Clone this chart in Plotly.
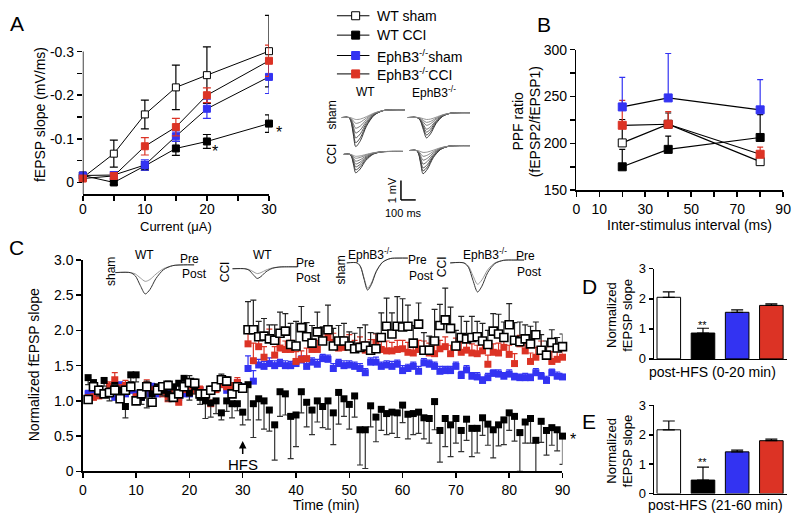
import plotly.graph_objects as go

W, H = 800, 521
BLUE = '#3333f2'
RED = '#dc3325'
FONT = 'Liberation Sans, Arial, sans-serif'

# ---------------- Panel A data ----------------
A_current = [0, 5, 10, 15, 20, 30]
A_wt_sham = [0.011, 0.066, 0.156, 0.218, 0.246, 0.301]
A_wt_sham_err = [0.006, 0.031, 0.033, 0.051, 0.065, 0.082]
A_wt_cci = [0.016, 0.000, 0.038, 0.078, 0.094, 0.135]
A_wt_cci_err = [0.005, 0.005, 0.010, 0.016, 0.016, 0.020]
A_eph_sham = [0.016, 0.017, 0.040, 0.106, 0.169, 0.242]
A_eph_sham_err = [0.004, 0.008, 0.012, 0.012, 0.022, 0.038]
A_eph_cci = [0.009, 0.015, 0.083, 0.127, 0.200, 0.279]
A_eph_cci_err = [0.004, 0.006, 0.020, 0.020, 0.017, 0.036]

# ---------------- Panel B data ----------------
B_isi = [20, 40, 80]
B_wt_sham = [200.5, 220.4, 180.5]
B_wt_sham_err = [25.0, 12.0, 3.0]
B_wt_cci = [175.0, 193.6, 206.3]
B_wt_cci_err = [18.6, 14.1, 24.4]
B_eph_sham = [238.9, 248.5, 235.8]
B_eph_sham_err = [31.6, 47.4, 32.2]
B_eph_cci = [219.3, 220.4, 188.4]
B_eph_cci_err = [26.5, 13.4, 7.6]

# ---------------- Panel C data ----------------
C_time = list(range(1, 91))
C_wt_sham = [1.02, 1.20, 1.15, 1.10, 1.12, 1.15, 1.03, 1.15, 1.20, 1.00,
             1.10, 1.20, 0.98, 1.15, 1.20, 1.22, 1.05, 1.10, 1.20, 1.26,
             1.25, 1.10, 1.10, 1.15, 1.20, 1.30, 1.28, 1.10, 1.20, 1.18,
             2.01, 2.01, 1.91, 1.92, 1.88, 1.86, 1.96, 1.99, 1.80, 1.78,
             2.04, 1.91, 1.82, 1.98, 1.85, 2.01, 1.78, 1.85, 1.85, 1.78,
             1.74, 1.76, 1.78, 1.72, 1.74, 1.90, 2.06, 1.95, 2.06, 2.05,
             2.06, 1.82, 2.09, 1.72, 1.72, 1.85, 2.07, 2.15, 2.03, 1.78,
             1.90, 1.88, 1.90, 1.91, 1.85, 1.80, 1.99, 1.95, 1.90, 2.08,
             1.86, 1.84, 1.88, 1.81, 1.94, 1.72, 1.65, 1.83, 1.75, 1.77]
C_wt_sham_err = [0.06, 0.06, 0.05, 0.05, 0.06, 0.08, 0.05, 0.06, 0.07, 0.05,
                 0.06, 0.08, 0.05, 0.06, 0.05, 0.06, 0.06, 0.05, 0.06, 0.10,
                 0.06, 0.05, 0.05, 0.06, 0.06, 0.08, 0.06, 0.06, 0.05, 0.06,
                 0.40, 0.42, 0.22, 0.25, 0.20, 0.22, 0.30, 0.25, 0.30, 0.35,
                 0.30, 0.20, 0.25, 0.28, 0.20, 0.35, 0.25, 0.22, 0.25, 0.20,
                 0.22, 0.28, 0.30, 0.25, 0.22, 0.35, 0.40, 0.30, 0.42, 0.40,
                 0.30, 0.25, 0.30, 0.25, 0.20, 0.45, 0.30, 0.45, 0.30, 0.22,
                 0.30, 0.25, 0.30, 0.22, 0.25, 0.20, 0.25, 0.28, 0.22, 0.30,
                 0.25, 0.28, 0.20, 0.25, 0.18, 0.22, 0.20, 0.18, 0.15, 0.18]
C_wt_cci = [1.33, 1.26, 1.17, 1.29, 1.10, 1.22, 1.15, 0.92, 1.37, 1.37,
            1.05, 1.20, 1.10, 1.20, 1.15, 1.10, 1.20, 1.25, 1.32, 1.11,
            1.20, 1.05, 1.00, 0.97, 1.00, 0.83, 1.00, 0.96, 0.96, 0.84,
            1.23, 0.96, 1.03, 1.00, 0.87, 0.66, 1.13, 1.10, 0.78, 0.80,
            1.13, 0.98, 0.87, 1.00, 0.92, 1.00, 0.83, 1.12, 1.03, 0.95,
            1.07, 0.59, 0.59, 0.93, 0.77, 0.88, 0.82, 0.84, 0.83, 0.94,
            0.81, 0.82, 0.84, 0.76, 0.75, 0.99, 0.58, 0.75, 0.66, 0.75,
            0.58, 0.74, 0.61, 0.61, 0.76, 0.67, 0.59, 0.66, 0.73, 0.83,
            0.78, 0.55, 0.70, 0.75, 0.44, 0.71, 0.58, 0.62, 0.59, 0.50]
C_wt_cci_err = [0.10, 0.08, 0.10, 0.08, 0.10, 0.12, 0.08, 0.16, 0.10, 0.10,
                0.10, 0.30, 0.08, 0.10, 0.08, 0.10, 0.10, 0.10, 0.12, 0.10,
                0.10, 0.10, 0.25, 0.20, 0.18, 0.10, 0.15, 0.20, 0.10, 0.18,
                0.50, 0.48, 0.30, 0.40, 0.30, 0.50, 0.35, 0.30, 0.60, 0.45,
                0.30, 0.35, 0.35, 0.30, 0.30, 0.40, 0.45, 0.45, 0.25, 0.35,
                0.30, 0.50, 0.55, 0.30, 0.35, 0.30, 0.30, 0.30, 0.35, 0.25,
                0.35, 0.30, 0.30, 0.30, 0.35, 0.40, 0.45, 0.40, 0.45, 0.35,
                0.30, 0.30, 0.40, 0.35, 0.25, 0.30, 0.40, 0.30, 0.35, 0.25,
                0.35, 0.55, 0.30, 0.35, 0.45, 0.30, 0.35, 0.25, 0.30, 0.40]
C_eph_sham = [1.10, 1.10, 1.15, 1.12, 1.10, 1.05, 1.22, 1.10, 1.15, 1.10,
              1.05, 1.10, 1.20, 1.10, 1.15, 1.10, 1.15, 1.05, 1.10, 1.10,
              1.20, 1.15, 1.10, 1.15, 1.20, 1.25, 1.15, 1.15, 1.25, 1.20,
              1.46, 1.28, 1.51, 1.49, 1.53, 1.50, 1.53, 1.50, 1.50, 1.53,
              1.58, 1.49, 1.55, 1.52, 1.60, 1.59, 1.46, 1.53, 1.50, 1.51,
              1.49, 1.46, 1.40, 1.55, 1.55, 1.49, 1.51, 1.49, 1.52, 1.43,
              1.46, 1.49, 1.42, 1.54, 1.52, 1.49, 1.42, 1.43, 1.43, 1.49,
              1.36, 1.44, 1.35, 1.34, 1.29, 1.33, 1.39, 1.38, 1.35, 1.38,
              1.34, 1.33, 1.33, 1.33, 1.40, 1.35, 1.29, 1.40, 1.35, 1.34]
C_eph_sham_err = [0.05, 0.04, 0.05, 0.04, 0.05, 0.05, 0.05, 0.04, 0.05, 0.04,
                  0.05, 0.04, 0.05, 0.06, 0.04, 0.05, 0.05, 0.04, 0.05, 0.05,
                  0.05, 0.04, 0.05, 0.04, 0.05, 0.05, 0.04, 0.05, 0.05, 0.04,
                  0.18, 0.15, 0.08, 0.07, 0.08, 0.07, 0.06, 0.07, 0.06, 0.07,
                  0.06, 0.07, 0.06, 0.07, 0.06, 0.06, 0.07, 0.06, 0.07, 0.06,
                  0.06, 0.07, 0.06, 0.06, 0.07, 0.06, 0.06, 0.07, 0.06, 0.07,
                  0.06, 0.06, 0.07, 0.06, 0.06, 0.06, 0.07, 0.06, 0.06, 0.06,
                  0.06, 0.06, 0.05, 0.06, 0.05, 0.06, 0.05, 0.06, 0.05, 0.06,
                  0.05, 0.05, 0.06, 0.05, 0.06, 0.05, 0.06, 0.05, 0.06, 0.05]
C_eph_cci = [1.03, 1.05, 1.07, 1.10, 1.21, 1.30, 1.17, 1.22, 1.19, 1.05,
             1.10, 1.23, 1.14, 1.17, 1.10, 1.03, 1.12, 0.98, 1.16, 1.21,
             1.14, 1.16, 1.10, 0.96, 1.16, 1.23, 1.20, 1.20, 1.26, 1.17,
             1.81, 1.57, 1.77, 1.62, 1.88, 1.65, 1.75, 1.73, 1.73, 1.56,
             1.59, 1.60, 1.73, 1.73, 1.85, 1.90, 1.83, 1.75, 1.76, 1.80,
             1.74, 1.78, 1.72, 1.73, 1.83, 1.73, 1.71, 1.71, 1.73, 1.74,
             1.69, 1.68, 1.73, 1.73, 1.68, 1.67, 1.74, 1.77, 1.67, 1.76,
             1.69, 1.72, 1.68, 1.67, 1.71, 1.52, 1.69, 1.68, 1.76, 1.66,
             1.53, 1.81, 1.71, 1.56, 1.62, 1.72, 1.65, 1.56, 1.59, 1.62]
C_eph_cci_err = [0.06, 0.05, 0.06, 0.05, 0.06, 0.10, 0.06, 0.07, 0.06, 0.05,
                 0.06, 0.07, 0.06, 0.05, 0.06, 0.05, 0.06, 0.05, 0.06, 0.07,
                 0.06, 0.05, 0.06, 0.05, 0.06, 0.07, 0.06, 0.06, 0.07, 0.06,
                 0.20, 0.25, 0.18, 0.15, 0.14, 0.12, 0.15, 0.12, 0.13, 0.14,
                 0.12, 0.15, 0.12, 0.13, 0.14, 0.12, 0.13, 0.12, 0.15, 0.14,
                 0.12, 0.13, 0.12, 0.14, 0.12, 0.13, 0.14, 0.12, 0.13, 0.12,
                 0.14, 0.12, 0.13, 0.12, 0.14, 0.13, 0.12, 0.14, 0.12, 0.13,
                 0.14, 0.12, 0.13, 0.12, 0.14, 0.13, 0.12, 0.14, 0.12, 0.13,
                 0.14, 0.12, 0.13, 0.12, 0.14, 0.13, 0.12, 0.14, 0.12, 0.13]

# ---------------- Panels D / E data ----------------
BAR_groups = ['WT sham', 'WT CCI', 'EphB3-/- sham', 'EphB3-/- CCI']
BAR_colors = ['white', 'black', BLUE, RED]
D_vals = [2.05, 0.86, 1.55, 1.78]
D_err = [0.18, 0.16, 0.08, 0.05]
E_vals = [2.17, 0.46, 1.42, 1.80]
E_err = [0.30, 0.44, 0.06, 0.05]

for arr in (C_wt_sham, C_wt_sham_err, C_wt_cci, C_wt_cci_err, C_eph_sham,
            C_eph_sham_err, C_eph_cci, C_eph_cci_err):
    assert len(arr) == 90

# ---------------- helpers ----------------
def xd(a, b):
    return [a / W, b / W]

def yd(top, bottom):
    return [1 - bottom / H, 1 - top / H]

def ebar(arr, color, width=4, down=False, up_only=False, thick=1.2):
    d = dict(type='data', array=arr, color=color, thickness=thick, width=width, visible=True)
    if down:
        d.update(symmetric=False, array=[0] * len(arr), arrayminus=arr)
    elif up_only:
        d.update(symmetric=False, arrayminus=[0] * len(arr))
    return d

fig = go.Figure()

# ---------------- Panel A ----------------
A_series = [
    (A_wt_sham, A_wt_sham_err, 'white', 'black', 'black'),
    (A_wt_cci, A_wt_cci_err, 'black', 'black', 'black'),
    (A_eph_sham, A_eph_sham_err, BLUE, BLUE, BLUE),
    (A_eph_cci, A_eph_cci_err, RED, RED, RED),
]
for ys, es, fill, edge, ecol in A_series:
    fig.add_trace(go.Scatter(
        x=A_current, y=ys, xaxis='x', yaxis='y', mode='lines+markers',
        line=dict(color='black', width=1),
        marker=dict(symbol='square', size=7, color=fill, line=dict(color=edge, width=1)),
        error_y=ebar(es, ecol, width=4), cliponaxis=False, showlegend=False))

# ---------------- Panel B ----------------
B_series = [
    (B_wt_cci, B_wt_cci_err, 'black', 'black', 'black'),
    (B_wt_sham, B_wt_sham_err, 'white', 'black', 'black'),
    (B_eph_cci, B_eph_cci_err, RED, RED, RED),
    (B_eph_sham, B_eph_sham_err, BLUE, BLUE, BLUE),
]
for ys, es, fill, edge, ecol in B_series:
    fig.add_trace(go.Scatter(
        x=B_isi, y=ys, xaxis='x2', yaxis='y2', mode='lines+markers',
        line=dict(color='black', width=1.2),
        marker=dict(symbol='square', size=8, color=fill, line=dict(color=edge, width=1)),
        error_y=ebar(es, ecol, width=3, up_only=True), cliponaxis=False, showlegend=False))

# ---------------- Panel C ----------------
fig.add_trace(go.Scatter(
    x=C_time, y=C_eph_sham, xaxis='x3', yaxis='y3', mode='markers',
    marker=dict(symbol='square', size=7, color=BLUE, line=dict(width=0)),
    error_y=ebar(C_eph_sham_err, BLUE, width=3, up_only=True, thick=1.2), cliponaxis=False, showlegend=False))
fig.add_trace(go.Scatter(
    x=C_time, y=C_eph_cci, xaxis='x3', yaxis='y3', mode='markers',
    marker=dict(symbol='square', size=7, color=RED, line=dict(width=0)),
    error_y=ebar(C_eph_cci_err, RED, width=3, up_only=True, thick=1.2), cliponaxis=False, showlegend=False))
fig.add_trace(go.Scatter(
    x=C_time, y=C_wt_cci, xaxis='x3', yaxis='y3', mode='markers',
    marker=dict(symbol='square', size=7, color='black', line=dict(width=0)),
    error_y=ebar(C_wt_cci_err, '#333333', width=3, down=True, thick=1.2), cliponaxis=False, showlegend=False))
fig.add_trace(go.Scatter(
    x=C_time, y=C_wt_sham, xaxis='x3', yaxis='y3', mode='markers',
    marker=dict(symbol='square', size=8, color='white', line=dict(color='black', width=1.6)),
    error_y=ebar(C_wt_sham_err, '#222222', width=3, up_only=True, thick=1.2), cliponaxis=False, showlegend=False))

# ---------------- Panels D / E ----------------
for vals, errs, xa, ya in [(D_vals, D_err, 'x4', 'y4'), (E_vals, E_err, 'x5', 'y5')]:
    fig.add_trace(go.Bar(
        x=[0, 1, 2, 3], y=vals, xaxis=xa, yaxis=ya, width=0.69,
        marker=dict(color=BAR_colors, line=dict(color='black', width=1)),
        error_y=dict(type='data', array=errs, symmetric=False, arrayminus=[0, 0, 0, 0],
                     color='black', thickness=1.2, width=6),
        showlegend=False, hovertext=BAR_groups))

# ---------------- overlay: legend & example traces ----------------
LEG_labels = ['WT sham', 'WT CCI', 'EphB3<sup>-/-</sup>sham', 'EphB3<sup>-/-</sup>CCI']
LEG_fill = ['white', 'black', BLUE, RED]
LEG_edge = ['black', 'black', BLUE, RED]
LEG_y = [8, 28, 49, 68]
for lab, fc, ec, yy in zip(LEG_labels, LEG_fill, LEG_edge, LEG_y):
    fig.add_trace(go.Scatter(x=[338, 371], y=[yy, yy], xaxis='x6', yaxis='y6', mode='lines',
                             line=dict(color='black', width=1), showlegend=False, hoverinfo='skip'))
    fig.add_trace(go.Scatter(x=[357], y=[yy], xaxis='x6', yaxis='y6', mode='markers',
                             marker=dict(symbol='square', size=8, color=fc, line=dict(color=ec, width=1)),
                             showlegend=False, hoverinfo='skip'))

# example waveform template (schematic)
WAVE_X = [0, 0.18, 0.24, 0.30, 0.36, 0.42, 0.50, 0.60, 0.72, 0.86, 1.0]
WAVE_DIP = [0, 0, 0.15, 0.6, 1.0, 0.8, 0.35, 0.08, 0, 0, 0]
WAVE_RISE = [0, 0, 0, 0, 0, 0, 0.2, 0.6, 0.9, 1.0, 1.0]

def wave(x0, w, peak, base, amp, reb):
    xs, ys = [], []
    for f, d, r in zip(WAVE_X, WAVE_DIP, WAVE_RISE):
        g = f / 0.36 * peak if f <= 0.36 else peak + (f - 0.36) / 0.64 * (1 - peak)
        xs.append(x0 + g * w)
        ys.append(base + amp * d - reb * r)
    return xs, ys

A_insets = [
    (343, 64, 0.22, 113, [30, 26, 21, 16, 11, 6, 2], 8),
    (410, 63, 0.30, 113, [21, 18, 15, 12, 8, 5, 2], 5),
    (345, 60, 0.20, 151, [19, 16, 13, 10, 7, 4, 2], 3),
    (412, 61, 0.22, 147, [24, 21, 18, 14, 10, 6, 2], 5),
]
greys = ['#222222', '#333333', '#444444', '#555555', '#666666', '#777777', '#888888']
for x0, w, pk, base, amps, reb in A_insets:
    for amp, gc in zip(amps, greys):
        xs, ys = wave(x0, w, pk, base, amp, reb)
        fig.add_trace(go.Scatter(x=xs, y=ys, xaxis='x6', yaxis='y6', mode='lines',
                                 line=dict(color=gc, width=0.9, shape='spline', smoothing=0.8),
                                 showlegend=False, hoverinfo='skip'))

C_insets = [
    (113, 80, 0.38, 273, 9, 22, 8),
    (232, 66, 0.38, 269, 5, 10, 2),
    (348, 62, 0.34, 263, 26, 28, 5),
    (453, 75, 0.37, 263, 22, 30, 3),
]
for x0, w, pk, base, pre, post, reb in C_insets:
    for amp, gc in [(pre, '#9a9a9a'), (post, '#333333')]:
        xs, ys = wave(x0, w, pk, base, amp, reb)
        fig.add_trace(go.Scatter(x=xs, y=ys, xaxis='x6', yaxis='y6', mode='lines',
                                 line=dict(color=gc, width=1, shape='spline', smoothing=0.8),
                                 showlegend=False, hoverinfo='skip'))

# ---------------- layout ----------------
base_ax = dict(showline=True, linecolor='black', linewidth=1.5, ticks='outside', ticklen=5,
               tickwidth=1.5, tickcolor='black', showgrid=False, zeroline=False,
               tickfont=dict(size=14, color='black', family=FONT), fixedrange=True)

layout = dict(
    width=W, height=H, margin=dict(l=0, r=0, t=0, b=0), autosize=False,
    paper_bgcolor='white', plot_bgcolor='rgba(0,0,0,0)',
    font=dict(family=FONT, color='black', size=13),
    bargap=0,
)
layout['xaxis'] = dict(base_ax, domain=xd(80, 269), range=[0, 30], anchor='y',
                       tickvals=[0, 5, 10, 15, 20, 25, 30], ticklabelstandoff=-3,
                       ticktext=['0', ' ', '10', ' ', '20', ' ', '30'])
layout['yaxis'] = dict(base_ax, domain=yd(4.5, 192), range=[-0.0267, 0.39], anchor='x', showline=False,
                       tickvals=[0, 0.05, 0.1, 0.15, 0.2, 0.25, 0.3],
                       ticktext=['0', ' ', '-0.1', ' ', '-0.2', ' ', '-0.3'])
layout['xaxis2'] = dict(base_ax, domain=xd(581, 791), range=[0, 90], anchor='y2',
                        tickvals=list(range(0, 91, 10)),
                        ticktext=['0', '10', ' ', '30', ' ', '50', ' ', '70', ' ', '90'])
layout['yaxis2'] = dict(base_ax, domain=yd(43, 188), range=[150, 300], anchor='x2',
                        tickvals=[150, 175, 200, 225, 250, 275, 300],
                        ticktext=['150', ' ', '200', ' ', '250', ' ', '300'])
layout['xaxis3'] = dict(base_ax, domain=xd(80, 567), range=[0, 90], anchor='y3',
                        tickvals=list(range(0, 91, 10)))
layout['yaxis3'] = dict(base_ax, domain=yd(260, 478), range=[0, 3], anchor='x3',
                        tickvals=[0, 0.5, 1, 1.5, 2, 2.5, 3],
                        ticktext=['0', '0.5', '1.0', '1.5', '2.0', '2.5', '3.0'])
small = dict(base_ax, tickfont=dict(size=13, color='black', family=FONT), ticklen=4)
layout['xaxis4'] = dict(small, domain=xd(660, 795), range=[-0.43, 3.46], anchor='y4',
                        ticks='', showticklabels=False)
layout['yaxis4'] = dict(small, domain=yd(269, 362), range=[0, 3], anchor='x4', tickvals=[0, 1, 2, 3])
layout['xaxis5'] = dict(small, domain=xd(660, 795), range=[-0.43, 3.46], anchor='y5',
                        ticks='', showticklabels=False)
layout['yaxis5'] = dict(small, domain=yd(410, 501), range=[0, 3], anchor='x5', tickvals=[0, 1, 2, 3])
layout['xaxis6'] = dict(domain=[0, 1], range=[0, W], anchor='y6', visible=False, fixedrange=True)
layout['yaxis6'] = dict(domain=[0, 1], range=[H, 0], anchor='x6', visible=False, fixedrange=True)
fig.update_layout(**layout)

# y axis line of panel A (stops at the -0.3 tick)
fig.add_shape(type='line', xref='x', yref='y', x0=0, x1=0, y0=-0.0267, y1=0.3,
              line=dict(color='black', width=1.5))
# scale bar in A inset
fig.add_shape(type='line', xref='x6', yref='y6', x0=403, x1=403, y0=178, y1=198,
              line=dict(color='black', width=1.5))
fig.add_shape(type='line', xref='x6', yref='y6', x0=403, x1=418, y0=198, y1=198,
              line=dict(color='black', width=1.5))

def txt(s, x, y, size=13, angle=0, xanchor='center', yanchor='middle'):
    fig.add_annotation(text=s, x=x, y=y, xref='x6', yref='y6', showarrow=False,
                       font=dict(size=size, color='black', family=FONT), textangle=angle,
                       xanchor=xanchor, yanchor=yanchor)

# panel letters
txt('A', 13, 16, 21)
txt('B', 548, 17, 21)
txt('C', 13, 247, 21)
txt('D', 594, 287, 21)
txt('E', 594, 427, 21)

# axis titles
txt('fEPSP slope (mV/ms)', 36, 110, 14, -90)
txt('Current (μA)', 175, 225, 13)
txt('PPF ratio', 522, 117, 14, -90)
txt('(fEPSP2/fEPSP1)', 540, 117, 14, -90)
txt('Inter-stimulus interval (ms)', 696, 224, 14)
txt('Normalized fEPSP slope', 30, 368, 14, -90)
txt('Time (min)', 327, 513, 14)
for yc in (317, 457):
    txt('Normalized', 617, yc, 13, -90)
    txt('fEPSP slope', 633, yc, 13, -90)
txt('post-HFS (0-20 min)', 719, 376, 14)
txt('post-HFS (21-60 min)', 722, 513, 14)

# significance marks
txt('*', 214, 148, 16)
txt('*', 279, 128, 16)
txt('*', 578, 445, 16)
txt('**', 709, 327, 11)
txt('**', 709, 468, 11)

# legend labels
for lab, yy in zip(LEG_labels, LEG_y):
    txt(lab, 377, yy, 14, xanchor='left')

# A inset labels
txt('WT', 367, 87, 12)
txt('EphB3<sup>-/-</sup>', 437, 87, 12)
txt('sham', 333, 111, 12, -90)
txt('CCI', 333, 151, 12, -90)
txt('1 mV', 394, 188, 11, -90)
txt('100 ms', 406, 212, 11)

# C inset labels
for s, x, y in [('WT', 143, 255), ('Pre', 188, 259), ('Post', 193, 274),
                ('WT', 262, 255), ('Pre', 306, 263), ('Post', 309, 279),
                ('EphB3<sup>-/-</sup>', 372, 254), ('Pre', 420, 260), ('Post', 424, 276),
                ('EphB3<sup>-/-</sup>', 488, 254), ('Pre', 529, 256), ('Post', 533, 272)]:
    txt(s, x, y, 12)
txt('sham', 108, 272, 12, -90)
txt('CCI', 224, 272, 12, -90)
txt('sham', 342, 270, 12, -90)
txt('CCI', 444, 267, 12, -90)

# HFS arrow
fig.add_annotation(text='HFS', x=30, y=0.43, xref='x3', yref='y3', showarrow=True,
                   ax=0, ay=23, arrowhead=2, arrowsize=1, arrowwidth=1.5, arrowcolor='black',
                   font=dict(size=15, color='black', family=FONT))

fig.write_html('out.html', config={'displayModeBar': False, 'staticPlot': True},
               post_script="document.body.style.margin='0';document.body.style.padding='0';")
